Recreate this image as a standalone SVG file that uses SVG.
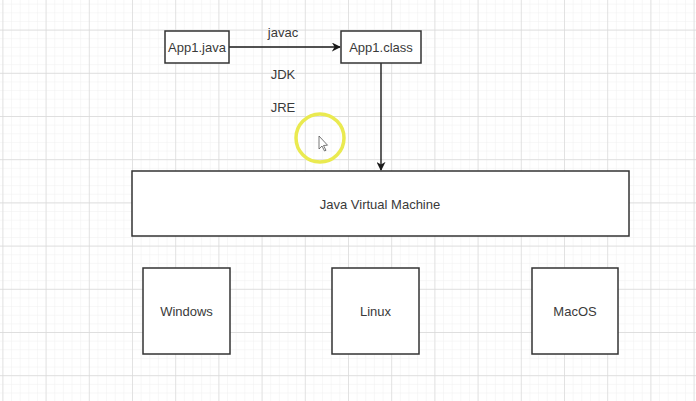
<svg xmlns="http://www.w3.org/2000/svg" width="696" height="401" viewBox="0 0 696 401">
<defs>
<pattern id="minor" patternUnits="userSpaceOnUse" x="2.4" y="29.6" width="8.64" height="8.64">
<path d="M0 0H8.64M0 0V8.64" fill="none" stroke="#efefef" stroke-width="1"/>
</pattern>
<pattern id="major" patternUnits="userSpaceOnUse" x="2.4" y="29.6" width="43.2" height="43.2">
<path d="M0 0H43.2M0 0V43.2" fill="none" stroke="#d8d8d8" stroke-width="1.3"/>
</pattern>
<marker id="arrow" viewBox="0 0 10 10" refX="9" refY="5" markerWidth="9" markerHeight="9" markerUnits="userSpaceOnUse" orient="auto">
<path d="M0 0L10 5L0 10L3 5Z" fill="#1a1a1a"/>
</marker>
<style>
.box{fill:#ffffff;stroke:#333333;stroke-width:1.5}
.lbl{font-family:"Liberation Sans",Arial,sans-serif;font-size:13px;fill:#3a3a3a;text-anchor:middle;dominant-baseline:central}
.edge{fill:none;stroke:#1a1a1a;stroke-width:1.4}
</style>
</defs>
<rect width="696" height="401" fill="#ffffff"/>
<rect width="696" height="401" fill="url(#minor)"/>
<rect width="696" height="401" fill="url(#major)"/>
<g id="connectors">
<path class="edge" d="M229 47H340" marker-end="url(#arrow)"/>
<path class="edge" d="M381 63V170" marker-end="url(#arrow)"/>
</g>
<g id="app1java"><rect class="box" x="165" y="31" width="64" height="32"/><text class="lbl" x="197" y="47">App1.java</text></g>
<g id="app1class"><rect class="box" x="341" y="31" width="80" height="32"/><text class="lbl" x="381" y="47">App1.class</text></g>
<g id="labels">
<text class="lbl" x="283" y="32">javac</text>
<text class="lbl" x="283" y="74">JDK</text>
<text class="lbl" x="283" y="107">JRE</text>
</g>
<g id="jvm"><rect class="box" x="132" y="171" width="497" height="65"/><text class="lbl" x="380" y="204">Java Virtual Machine</text></g>
<g id="windows"><rect class="box" x="143" y="268" width="87" height="86"/><text class="lbl" x="186.5" y="311">Windows</text></g>
<g id="linux"><rect class="box" x="332" y="268" width="87" height="86"/><text class="lbl" x="375.5" y="311">Linux</text></g>
<g id="macos"><rect class="box" x="532" y="268" width="86" height="86"/><text class="lbl" x="575" y="311">MacOS</text></g>
<g id="cursor">
<circle cx="320" cy="138" r="24" fill="none" stroke="#eaea50" stroke-width="3.5"/>
<path d="M319 136V149L322 146L324.5 151L326 150.3L323.5 145.5L327.5 145.2Z" fill="#ffffff" stroke="#555555" stroke-width="0.8"/>
</g>
</svg>
